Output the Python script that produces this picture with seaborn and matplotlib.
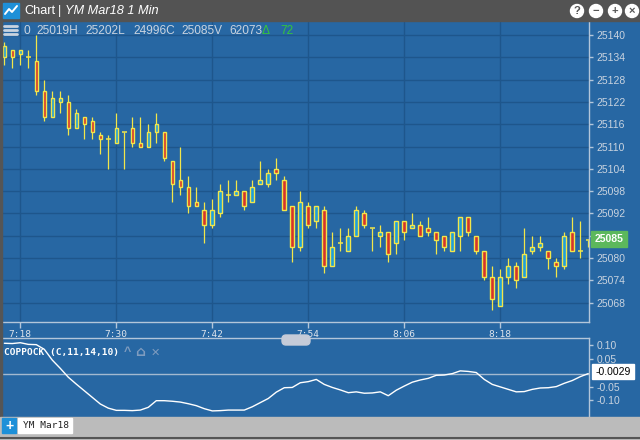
import matplotlib
matplotlib.use("Agg")
import matplotlib.pyplot as plt
from matplotlib.patches import Rectangle, FancyBboxPatch, Circle
import pandas as pd
import seaborn as sns

# YM Mar18, one-minute bars starting 7:16
opens = [25134, 25136, 25135, 25134, 25133, 25125, 25118, 25122, 25122, 25115,
         25118, 25117, 25113, 25112, 25111, 25114, 25115, 25111, 25110, 25114,
         25114, 25106, 25101, 25099, 25095, 25093, 25089, 25092, 25097, 25097,
         25098, 25095, 25100, 25100, 25104, 25101, 25094, 25083, 25094, 25090,
         25093, 25078, 25084, 25082, 25086, 25092, 25088, 25086, 25087, 25084,
         25090, 25088, 25089, 25088, 25087, 25086, 25082, 25086, 25091, 25086,
         25082, 25075, 25067, 25075, 25078, 25075, 25082, 25083, 25082, 25079,
         25078, 25087, 25082, 25085]
highs = [25138, 25136, 25136, 25136, 25140, 25128, 25125, 25125, 25124, 25120,
         25118, 25118, 25114, 25113, 25119, 25114, 25118, 25118, 25116, 25119,
         25114, 25106, 25110, 25102, 25099, 25095, 25096, 25100, 25101, 25101,
         25098, 25101, 25106, 25104, 25107, 25102, 25094, 25098, 25095, 25094,
         25094, 25087, 25088, 25088, 25094, 25093, 25088, 25089, 25087, 25090,
         25090, 25092, 25090, 25091, 25087, 25086, 25087, 25091, 25091, 25086,
         25082, 25078, 25077, 25080, 25079, 25088, 25086, 25086, 25082, 25080,
         25087, 25091, 25090, 25085]
lows = [25132, 25131, 25132, 25131, 25124, 25117, 25118, 25119, 25113, 25115,
        25112, 25112, 25108, 25104, 25111, 25104, 25110, 25110, 25110, 25111,
        25106, 25095, 25097, 25092, 25094, 25084, 25088, 25091, 25095, 25097,
        25093, 25095, 25100, 25099, 25101, 25093, 25079, 25082, 25088, 25088,
        25076, 25078, 25082, 25082, 25086, 25088, 25082, 25083, 25079, 25081,
        25085, 25088, 25086, 25086, 25081, 25082, 25082, 25082, 25086, 25081,
        25074, 25066, 25067, 25073, 25072, 25075, 25081, 25082, 25077, 25075,
        25077, 25082, 25080, 25083]
closes = [25137, 25134, 25136, 25134, 25125, 25118, 25123, 25123, 25115, 25119,
          25116, 25114, 25112, 25112, 25115, 25114, 25111, 25110, 25114, 25116,
          25107, 25100, 25099, 25094, 25094, 25089, 25093, 25098, 25097, 25098,
          25094, 25099, 25101, 25103, 25103, 25093, 25083, 25095, 25089, 25094,
          25078, 25083, 25084, 25086, 25093, 25089, 25088, 25087, 25081, 25090,
          25087, 25089, 25086, 25087, 25085, 25083, 25087, 25091, 25087, 25082,
          25075, 25069, 25075, 25078, 25074, 25081, 25083, 25084, 25080, 25078,
          25086, 25082, 25082, 25085]
coppock = [0.107, 0.106, 0.109, 0.103, 0.102, 0.085, 0.046, 0.016, -0.016, -0.041,
           -0.065, -0.089, -0.113, -0.128, -0.136, -0.136, -0.137, -0.135, -0.125, -0.101,
           -0.101, -0.103, -0.106, -0.112, -0.119, -0.130, -0.138, -0.137, -0.135, -0.135,
           -0.135, -0.123, -0.108, -0.093, -0.070, -0.054, -0.053, -0.036, -0.032, -0.024,
           -0.042, -0.053, -0.062, -0.072, -0.069, -0.074, -0.073, -0.069, -0.083, -0.063,
           -0.048, -0.034, -0.026, -0.020, -0.009, -0.008, -0.003, 0.007, 0.005, 0.001,
           -0.024, -0.042, -0.051, -0.060, -0.069, -0.068, -0.060, -0.055, -0.054, -0.050,
           -0.038, -0.028, -0.014, -0.0029]
start_minute = 7 * 60 + 16
time_labels = ['7:18', '7:30', '7:42', '7:54', '8:06', '8:18']
price_ticks = list(range(25068, 25141, 6))
copp_ticks = [0.10, 0.05, -0.05, -0.10]
header_items = ['0', '25019H', '25202L', '24996C', '25085V', '62073']
change = '72'

BG = '#2767a3'
GRID = '#1e568c'
SPINE = '#b3c6da'
LABEL = '#c9d3df'
RED = '#d6342b'
BLUE = '#1e9fdc'
YEL = '#f2e64a'

sns.set_style('dark')
plt.rcParams['font.family'] = ['Liberation Sans', 'DejaVu Sans']

df = pd.DataFrame({'open': opens, 'high': highs, 'low': lows,
                   'close': closes, 'coppock': coppock})
df['bar'] = range(len(df))

tick_pos = []
for lab in time_labels:
    h, m = lab.split(':')
    tick_pos.append(int(h) * 60 + int(m) - start_minute)

fig = plt.figure(figsize=(6.4, 4.4), dpi=100)
fig.patch.set_facecolor(BG)

xlim = (-0.54, 73.13)

# price panel
ax = fig.add_axes([0, 1 - 321.7 / 440, 589.3 / 640, (321.7 - 22) / 440])
ax.set_facecolor(BG)
for _, r in df.iterrows():
    ax.vlines(r['bar'], r['low'], r['high'], color=YEL, lw=0.9, zorder=2)
    if r['open'] == r['close']:
        ax.hlines(r['close'], r['bar'] - 0.3, r['bar'] + 0.3, color=YEL, lw=1.1, zorder=3)
    else:
        ax.bar(r['bar'], abs(r['close'] - r['open']), bottom=min(r['open'], r['close']),
               width=0.45, color=RED if r['close'] < r['open'] else BLUE,
               edgecolor=YEL, linewidth=1, zorder=3)
ax.set_xlim(*xlim)
ax.set_ylim(25062.9, 25143.5)
ax.set_yticks(price_ticks)
ax.set_yticklabels([str(p) for p in price_ticks])
ax.set_xticks(tick_pos)
ax.set_xticklabels(time_labels, family='DejaVu Sans Mono', fontsize=6.8, color='#dde4ec')
ax.yaxis.tick_right()
ax.tick_params(axis='y', length=3, width=1, color=SPINE, labelcolor=LABEL,
               labelsize=7.5, pad=2)
ax.tick_params(axis='x', length=4, width=1, color=SPINE, pad=2, bottom=True)
ax.grid(True, color=GRID, lw=1)
for s in ['top', 'left']:
    ax.spines[s].set_visible(False)
for s in ['right', 'bottom']:
    ax.spines[s].set_visible(True)
    ax.spines[s].set_color(SPINE)
    ax.spines[s].set_linewidth(1)

# coppock panel
ax2 = fig.add_axes([0, 1 - 416.7 / 440, 589.3 / 640, (416.7 - 338.3) / 440])
ax2.set_facecolor(BG)
sns.lineplot(data=df, x='bar', y='coppock', ax=ax2, color='white', lw=1)
ax2.axhline(coppock[-1], color='#a3b9d0', lw=1, zorder=1)
ax2.set_xlim(*xlim)
ax2.set_ylim(-0.159, 0.125)
ax2.set_xticks([])
ax2.set_yticks(copp_ticks)
ax2.set_yticklabels(['%.2f' % v for v in copp_ticks])
ax2.yaxis.tick_right()
ax2.tick_params(axis='y', length=3, width=1, color=SPINE, labelcolor=LABEL,
                labelsize=7.5, pad=2)
ax2.set_xlabel('')
ax2.set_ylabel('')
ax2.grid(False)
for s in ['bottom', 'left']:
    ax2.spines[s].set_visible(False)
for s in ['right', 'top']:
    ax2.spines[s].set_visible(True)
    ax2.spines[s].set_color(SPINE)
    ax2.spines[s].set_linewidth(1)

# overlay for window chrome, in pixels
ui = fig.add_axes([0, 0, 1, 1], zorder=5)
ui.set_xlim(0, 640)
ui.set_ylim(440, 0)
ui.axis('off')
ui.patch.set_alpha(0)

ui.add_patch(Rectangle((0, 0), 640, 21.5, color='#535353'))
ui.add_patch(Rectangle((0, 0), 1.5, 440, color='#555555'))
ui.add_patch(Rectangle((3, 3), 16, 15.5, color='#1e90d8'))
ui.plot([5, 9, 12, 17], [14, 9, 12, 6], color='white', lw=1.4)
ui.text(24, 11, 'Chart', color='white', fontsize=9.2, va='center')
ui.text(58, 11, '|', color='white', fontsize=9.2, va='center')
ui.text(65, 11, 'YM Mar18 1 Min', color='white', fontsize=9.2, va='center', style='italic')
for cx, g in zip([577, 596, 615, 632], ['?', '\u2212', '+', '\u00d7']):
    ui.add_patch(Circle((cx, 11), 6.5, color='white'))
    ui.text(cx, 11.3, g, color='#555555', fontsize=8, fontweight='bold', ha='center', va='center')

for yy in [26.5, 30.5, 34.5]:
    ui.plot([4, 17], [yy, yy], color=LABEL, lw=2)
for xx, t in zip([23.3, 36.7, 85, 133, 181.7, 229.3], header_items):
    ui.text(xx, 30.5, t, color=LABEL, fontsize=8.6, va='center')
ui.text(262, 30.5, '\u0394', color='#35c43c', fontsize=8.6, va='center')
ui.text(280, 30.5, change, color='#35c43c', fontsize=8.6, va='center')

ui.add_patch(Rectangle((591, 231), 36, 16.5, color='#5cb85c'))
ui.text(609, 239.5, '25085', color='white', fontsize=7.5, fontweight='bold',
        ha='center', va='center')

ui.add_patch(FancyBboxPatch((282, 335), 28, 10, boxstyle='round,pad=0,rounding_size=4',
                            color='#c5cbd8'))

ui.text(4, 352.3, 'COPPOCK (C,11,14,10)', color='white', fontsize=6.8,
        family='DejaVu Sans Mono', fontweight='bold', va='center')
ui.text(124, 352.3, '^', color='#7f9cbf', fontsize=9, fontweight='bold', va='center')
ui.text(135, 352.3, '\u2302', color='#7f9cbf', fontsize=10, fontweight='bold', va='center',
        family='DejaVu Sans')
ui.text(151, 352.3, '\u2715', color='#7f9cbf', fontsize=8, va='center', family='DejaVu Sans')

ui.add_patch(Rectangle((592, 364.5), 42, 15, color='white'))
ui.text(613, 372, '%.4f' % coppock[-1], color='black', fontsize=7.5, ha='center', va='center')

ui.add_patch(Rectangle((0, 417), 640, 23, color='#bbbbbb'))
ui.plot([0, 640], [438.5, 438.5], color='#555555', lw=1.5)
ui.add_patch(Rectangle((2, 418.5), 14, 15, color='#1e90d8'))
ui.text(9, 426, '+', color='white', fontsize=10, fontweight='bold', ha='center', va='center')
ui.add_patch(Rectangle((18, 418.5), 54, 15, color='white'))
ui.text(23, 426, 'YM Mar18', color='#222222', fontsize=6.8, family='DejaVu Sans Mono',
        va='center')

fig.savefig('out.png', dpi=100, facecolor=BG)
